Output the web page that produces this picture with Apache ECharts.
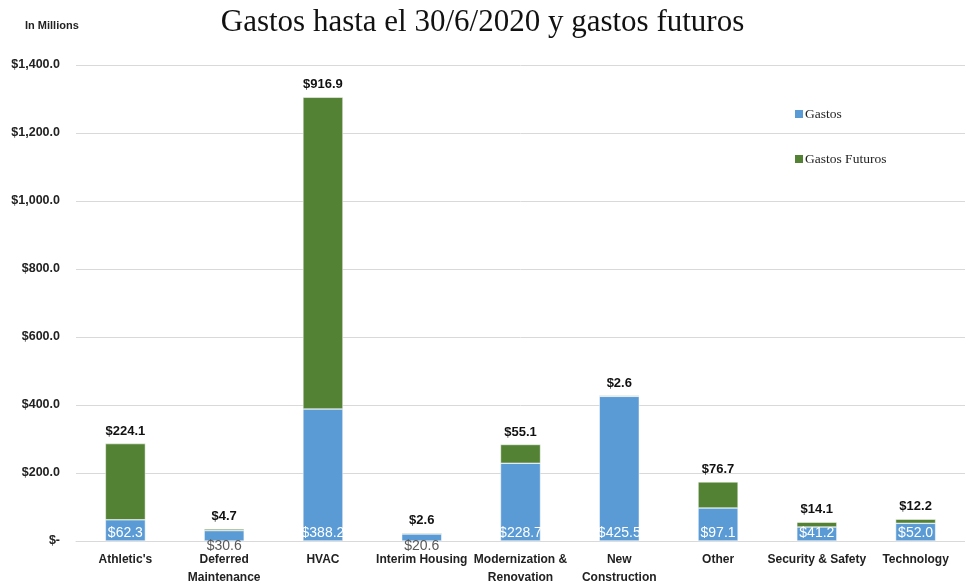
<!DOCTYPE html>
<html lang="es">

<head>
    <meta charset="UTF-8">
    <title>Gastos hasta el 30/6/2020 y gastos futuros</title>
    <script src="https://cdn.jsdelivr.net/npm/echarts@6/dist/echarts.min.js"></script>
    <style>
        html, body { margin: 0; padding: 0; background: #fff; }
        #chart { width: 965px; height: 587px; }
    </style>
</head>

<body>
    <div id="chart"></div>

    <script>
        // datos (millones de dólares)
        var categorias = ['Athletic\'s', 'Deferred\nMaintenance', 'HVAC', 'Interim Housing',
            'Modernization &\nRenovation', 'New\nConstruction', 'Other', 'Security & Safety', 'Technology'];
        var gastos = [62.3, 30.6, 388.2, 20.6, 228.7, 425.5, 97.1, 41.2, 52.0];
        var gastosFuturos = [224.1, 4.7, 916.9, 2.6, 55.1, 2.6, 76.7, 14.1, 12.2];
        var nombresSeries = ['Gastos', 'Gastos Futuros'];

        var fuenteEje = 'Liberation Sans';
        var fuenteSerif = 'Liberation Serif';

        function dinero(v) {
            return '$' + v.toFixed(1);
        }

        // etiquetas del azul: blancas dentro; en barras muy bajas quedan debajo, en gris
        var datosGastos = gastos.map(function (v) {
            if (v < 35) {
                return {
                    value: v,
                    label: { color: '#595959', offset: [0, 13] }
                };
            }
            return v;
        });

        var myChart = echarts.init(document.getElementById('chart'));

        var option = {
            backgroundColor: '#fff',
            title: [
                {
                    text: 'Gastos hasta el 30/6/2020 y gastos futuros',
                    left: 'center',
                    top: 2,
                    textStyle: {
                        fontFamily: fuenteSerif,
                        fontSize: 31,
                        fontWeight: 'normal',
                        color: '#111'
                    }
                },
                {
                    text: 'In Millions',
                    left: 20,
                    top: 15,
                    textStyle: {
                        fontFamily: fuenteEje,
                        fontSize: 11,
                        fontWeight: 'bold',
                        color: '#222'
                    }
                }
            ],
            legend: {
                data: nombresSeries,
                orient: 'vertical',
                left: 788,
                top: 102,
                itemGap: 31,
                itemWidth: 10,
                itemHeight: 10,
                icon: 'rect',
                textStyle: {
                    fontFamily: fuenteSerif,
                    fontSize: 13.5,
                    color: '#222',
                    padding: [0, 0, 0, -4]
                }
            },
            color: ['#5B9BD5', '#548235'],
            grid: {
                left: 76,
                right: -15,
                top: 65,
                bottom: 42
            },
            xAxis: {
                type: 'category',
                data: categorias,
                axisLine: { lineStyle: { color: '#d9d9d9' } },
                axisTick: { show: false },
                axisLabel: {
                    interval: 0,
                    margin: 10,
                    fontFamily: fuenteEje,
                    fontSize: 12,
                    fontWeight: 'bold',
                    color: '#222',
                    lineHeight: 18
                }
            },
            yAxis: {
                type: 'value',
                min: 0,
                max: 1400,
                interval: 200,
                axisLine: { show: false },
                axisTick: { show: false },
                splitLine: { lineStyle: { color: '#d9d9d9' } },
                axisLabel: {
                    margin: 16,
                    fontFamily: fuenteEje,
                    fontSize: 12.5,
                    fontWeight: 'bold',
                    color: '#222',
                    formatter: function (v) {
                        if (v === 0) return '$-';
                        return '$' + v.toLocaleString('en-US', { minimumFractionDigits: 1 });
                    }
                }
            },
            series: [
                {
                    name: nombresSeries[0],
                    type: 'bar',
                    stack: 'total',
                    barWidth: 40,
                    itemStyle: { borderColor: '#fff', borderWidth: 0.5 },
                    label: {
                        show: true,
                        position: 'insideBottom',
                        distance: 1,
                        fontFamily: fuenteEje,
                        fontSize: 14,
                        color: '#fff',
                        formatter: function (p) { return dinero(p.value); }
                    },
                    data: datosGastos
                },
                {
                    name: nombresSeries[1],
                    type: 'bar',
                    stack: 'total',
                    barWidth: 40,
                    itemStyle: { borderColor: '#fff', borderWidth: 0.5 },
                    label: {
                        show: true,
                        position: 'top',
                        distance: 6,
                        fontFamily: fuenteEje,
                        fontSize: 13,
                        fontWeight: 'bold',
                        color: '#111',
                        formatter: function (p) { return dinero(p.value); }
                    },
                    data: gastosFuturos
                }
            ]
        };

        myChart.setOption(option);
    </script>
</body>

</html>
